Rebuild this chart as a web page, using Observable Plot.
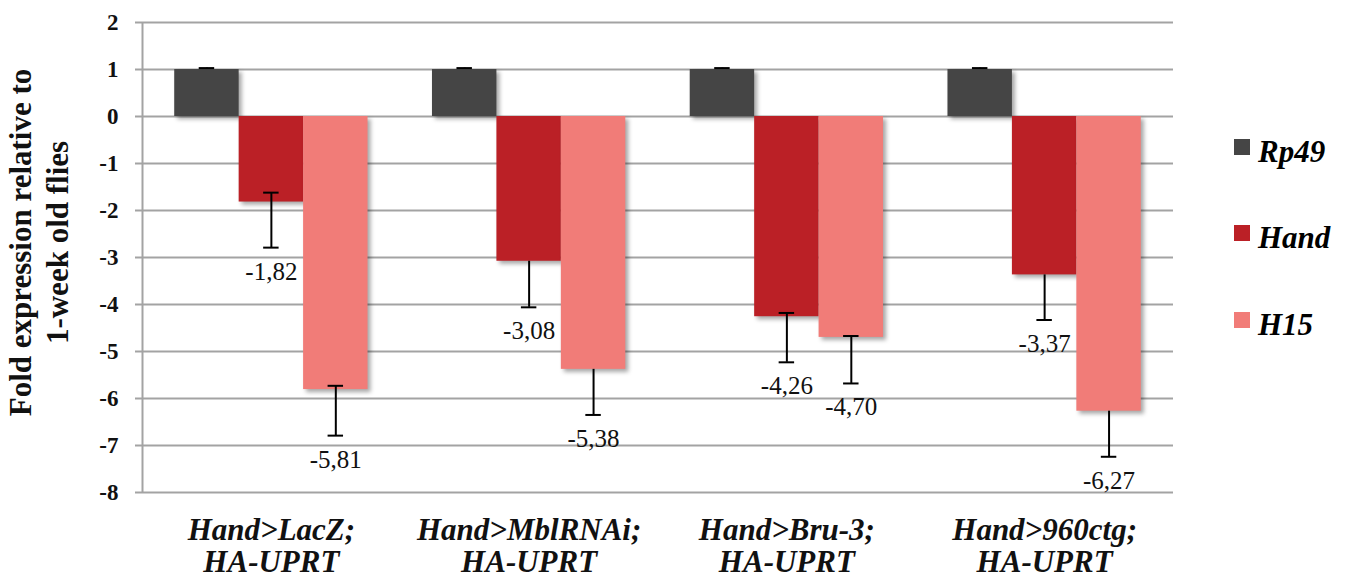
<!DOCTYPE html>
<html>
<head>
<meta charset="utf-8">
<script src="https://cdn.jsdelivr.net/npm/d3@7"></script>
<script src="https://cdn.jsdelivr.net/npm/@observablehq/plot@0.6"></script>
<style>
  body { margin: 0; background: #fff; }
  #wrap { position: relative; width: 1345px; height: 580px; }
  #legend { position: absolute; left: 1234px; top: 0; font-family: "Liberation Serif", "Times New Roman", serif;
            font-weight: bold; font-style: italic; font-size: 31px; color: #000; }
  .item { position: absolute; left: 0; display: flex; align-items: flex-start; height: 30px; line-height: 30px; white-space: nowrap; }
  .sw { width: 16px; height: 16px; margin-top: 2.4px; margin-right: 8px; flex: none; }
  svg g[aria-label="rect"] rect { filter: drop-shadow(3px 3px 2px rgba(0,0,0,0.35)); }
</style>
</head>
<body>
<div id="wrap"><div id="legend"></div></div>
<script>
// ---- data ----
const groups = ["Hand>LacZ;\nHA-UPRT", "Hand>MblRNAi;\nHA-UPRT", "Hand>Bru-3;\nHA-UPRT", "Hand>960ctg;\nHA-UPRT"];
const series = ["Rp49", "Hand", "H15"];
const colors = ["#454545", "#bb2026", "#f17c78"];

const rp49Values = [1, 1, 1, 1];
const handValues = [-1.82, -3.08, -4.26, -3.37];
const h15Values  = [-5.81, -5.38, -4.70, -6.27];

// error bar ends (lower cap / upper cap; null = no cap)
const rp49ErrLow = [null, null, null, null];
const rp49ErrTop = [1.03, 1.03, 1.03, 1.03];
const handErrLow = [-2.79, -4.06, -5.23, -4.33];
const handErrTop = [-1.62, null, -4.18, null];
const h15ErrLow  = [-6.79, -6.35, -5.68, -7.24];
const h15ErrTop  = [-5.73, null, -4.67, null];

const yTicks = [-8, -7, -6, -5, -4, -3, -2, -1, 0, 1, 2];
const yTitle = "Fold expression relative to\n1-week old flies";

// ---- table ----
const valueBy = {Rp49: rp49Values, Hand: handValues, H15: h15Values};
const lowBy = {Rp49: rp49ErrLow, Hand: handErrLow, H15: h15ErrLow};
const topBy = {Rp49: rp49ErrTop, Hand: handErrTop, H15: h15ErrTop};
const rows = groups.flatMap((g, gi) => series.map((s, si) => ({
  group: g, gi, series: s, si,
  value: valueBy[s][gi], lo: lowBy[s][gi], top: topBy[s][gi]
})));

// layout within each group (in group units)
const groupPad = 0.125, barW = 0.25, capHalf = 0.03;
const bx1 = d => d.gi + groupPad + d.si * barW;
const bx2 = d => d.gi + groupPad + (d.si + 1) * barW;
const cx = d => d.gi + groupPad + (d.si + 0.5) * barW;
const caps = rows.flatMap(d => [d.lo, d.top].filter(v => v != null).map(v => ({...d, v})));
const fmt = v => v.toFixed(2).replace(".", ",");

const grid = "#a3a3a3";
const chart = Plot.plot({
  width: 1345,
  height: 580,
  marginLeft: 142,
  marginRight: 172,
  marginTop: 22,
  marginBottom: 88,
  style: {fontFamily: "'Liberation Serif', 'Times New Roman', serif", background: "#fff", color: "#000"},
  x: {domain: [0, groups.length], axis: null},
  y: {domain: [-8, 2], axis: null},
  color: {domain: series, range: colors},
  marks: [
    Plot.ruleY(yTicks, {stroke: grid, strokeWidth: 2}),
    Plot.ruleX([0], {y1: () => -8, y2: () => 2, stroke: grid, strokeWidth: 2}),
    Plot.axisY({ticks: yTicks, tickFormat: d => String(d), tickSize: 7, tickPadding: 17,
                stroke: grid, strokeWidth: 2, fill: "#111", fontSize: 23, fontWeight: "bold", label: null}),
    Plot.axisX({ticks: groups.map((g, i) => i + 0.5), tickFormat: v => groups[Math.floor(v)],
                tickSize: 0, tickPadding: 25, fontSize: 31, fontWeight: "bold", fontStyle: "italic",
                lineHeight: 1.03, fill: "#111", label: null}),
    Plot.text([yTitle], {frameAnchor: "left", rotate: -90, dx: -138, dy: -15, lineAnchor: "top",
                textAnchor: "middle", lineHeight: 1.2, fontSize: 31, fontWeight: "bold", fill: "#111"}),
    Plot.rect(rows, {x1: bx1, x2: bx2, y1: () => 0, y2: "value", fill: "series"}),
    Plot.ruleX(rows, {x: cx, y1: d => d.top ?? d.value, y2: d => d.lo ?? d.value, stroke: "#000", strokeWidth: 2}),
    Plot.ruleY(caps, {y: "v", x1: d => cx(d) - capHalf, x2: d => cx(d) + capHalf, stroke: "#000", strokeWidth: 2}),
    Plot.text(rows.filter(d => d.si > 0), {x: cx, y: "lo", text: d => fmt(d.value), dy: 24,
                fontSize: 25, fill: "#111"})
  ]
});
document.getElementById("wrap").prepend(chart);

// legend
const legend = document.getElementById("legend");
const legendTops = [136.6, 222.9, 309.9];
series.forEach((s, i) => {
  const item = document.createElement("div");
  item.className = "item";
  item.style.top = legendTops[i] + "px";
  const sw = document.createElement("span");
  sw.className = "sw";
  sw.style.background = colors[i];
  const t = document.createElement("span");
  t.textContent = s;
  item.append(sw, t);
  legend.append(item);
});
</script>
</body>
</html>
